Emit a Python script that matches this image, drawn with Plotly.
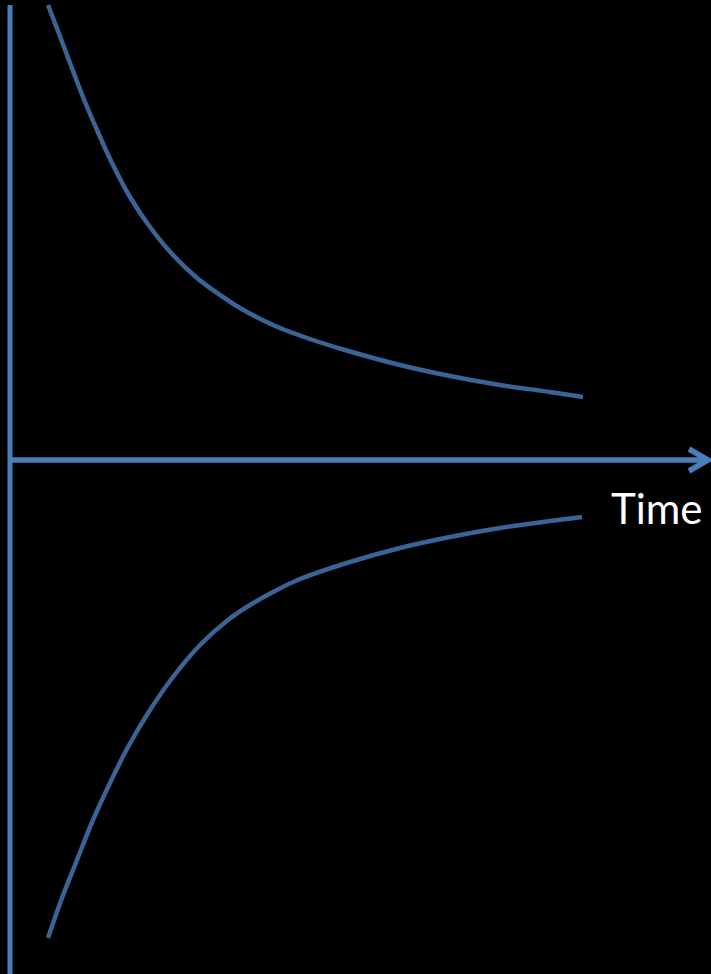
import plotly.graph_objects as go

# readings from the picture: time offset from the vertical axis, value above the time axis
upper_t = [38, 48, 60, 73, 87, 102, 120, 140, 163, 187, 203, 230, 263, 297, 335, 390, 440, 490, 540, 573]
upper_v = [455, 429, 397, 363, 330, 297, 263, 233, 205, 182, 170, 152, 135, 122, 110, 95, 84, 75, 68, 63]

lower_t = [38, 52, 67, 83, 100, 118, 140, 163, 190, 218, 240, 263, 290, 340, 390, 440, 490, 540, 572]
lower_v = [-478, -438, -400, -360, -323, -287, -250, -217, -185, -160, -145, -132, -119, -102, -88, -77, -68, -61, -57]

axis_label = "Time"

axis_blue = "#4A7EBB"
curve_blue = "#3A6496"

fig = go.Figure()
for t, v in [(upper_t, upper_v), (lower_t, lower_v)]:
    fig.add_trace(go.Scatter(
        x=t, y=v,
        mode="lines",
        line=dict(color=curve_blue, width=4.5, shape="spline", smoothing=1),
        hoverinfo="skip",
        showlegend=False
    ))

# axes drawn by hand: vertical line, horizontal arrow
fig.add_shape(type="line", x0=0, x1=0, y0=455, y1=-520,
              line=dict(color=axis_blue, width=5))
fig.add_shape(type="line", x0=0, x1=698, y0=0, y1=0,
              line=dict(color=axis_blue, width=5.5))
fig.add_shape(type="path", path="M 679,11 L 698,0 L 679,-11",
              line=dict(color=axis_blue, width=5.5))

fig.add_annotation(x=646, y=-48, text=axis_label, showarrow=False,
                   xanchor="center", yanchor="middle",
                   font=dict(family="Lato", size=42, color="white"))

fig.update_layout(
    width=711, height=974,
    margin=dict(l=0, r=0, t=0, b=0),
    paper_bgcolor="black",
    plot_bgcolor="black",
    xaxis=dict(range=[-10, 701], visible=False, fixedrange=True),
    yaxis=dict(range=[-514, 460], visible=False, fixedrange=True),
)

fig.write_html("out.html", config={"displayModeBar": False},
               post_script="document.body.style.margin='0';")
